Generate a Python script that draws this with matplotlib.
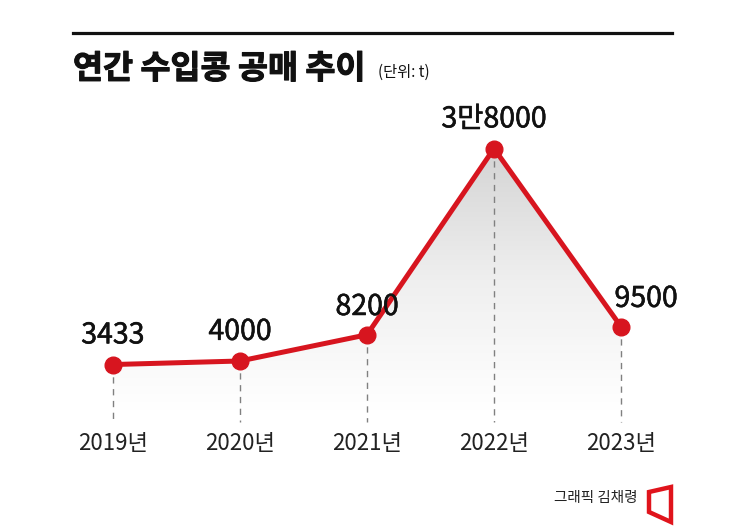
import matplotlib.pyplot as plt
import matplotlib.patheffects as pe
import numpy as np
from matplotlib.colors import LinearSegmentedColormap
from matplotlib.patches import Polygon

plt.rcParams["font.family"] = ["Noto Sans CJK KR", "DejaVu Sans"]

# ── data ────────────────────────────────────────────────────────────────────
years = ["2019년", "2020년", "2021년", "2022년", "2023년"]
values = [3433, 4000, 8200, 38000, 9500]
value_labels = ["3433", "4000", "8200", "3만8000", "9500"]

RED = "#d7151f"
W, H = 745, 531

# pixel mapping: x index 0 -> 113px, step 127px; value 0 -> 386px, 0.00625 px/unit
X0, DX = 113, 127
Y0, DY = 386, 0.00625

fig = plt.figure(figsize=(W / 100, H / 100), dpi=100)
ax = fig.add_axes([0, 0, 1, 1])
ax.set_xlim(-X0 / DX, (W - X0) / DX)
ax.set_ylim((Y0 - H) / DY, Y0 / DY)
ax.axis("off")

x = np.arange(len(values))
v = np.array(values)

# gradient fill under the line
fill_bottom = -4000
poly = ax.fill_between(x, v, fill_bottom, color="none", lw=0)
cmap = LinearSegmentedColormap.from_list("g", ["#ffffff", "#efefef", "#d4d4d4"])
grad = np.linspace(0, 1, 256).reshape(-1, 1)
img = ax.imshow(
    grad,
    cmap=cmap,
    aspect="auto",
    origin="lower",
    extent=[x[0], x[-1], fill_bottom, v.max()],
    zorder=1,
)
img.set_clip_path(poly.get_paths()[0], transform=ax.transData)

# dashed guides
for xi, vi in zip(x, v):
    ax.plot([xi, xi], [vi, -5760], ls=(0, (4.5, 4)), color="#808080", lw=1, zorder=2)

ax.plot(x, v, color=RED, lw=3.6, marker="o", ms=12, zorder=3, solid_capstyle="round")

# value labels (slightly thickened strokes)
thick = [pe.withStroke(linewidth=0.4, foreground="#111111")]
offsets = [(0, 21), (0, 21), (0, 20), (0, 21), (18, 20)]
for xi, vi, lab, off in zip(x, v, value_labels, offsets):
    ax.annotate(
        lab,
        xy=(xi, vi),
        xytext=off,
        textcoords="offset points",
        ha="center",
        va="center",
        fontsize=20.5,
        color="#111111",
        zorder=4,
        path_effects=thick,
    )

# year labels
for xi, lab in zip(x, years):
    ax.text(xi, (Y0 - 443) / DY, lab, ha="center", va="center", fontsize=16, color="#222222")

# header
fig.add_artist(plt.Line2D([73 / W, 672 / W], [1 - 33 / H, 1 - 33 / H], color="#111111", lw=2.3))
fig.text(73 / W, 1 - 69 / H, "연간 수입콩 공매 추이", fontsize=23.5, fontweight="bold",
         ha="left", va="center", color="#111111",
         path_effects=[pe.withStroke(linewidth=0.8, foreground="#111111")])
fig.text(378 / W, 1 - 72 / H, "(단위: t)", fontsize=11, ha="left", va="center", color="#111111")

# credit + logo
fig.text(637 / W, 1 - 498 / H, "그래픽 김채령", fontsize=10.5, ha="right", va="center", color="#222222")
logo = [(649, 492), (671, 487), (671, 522), (649, 512)]
fig.add_artist(Polygon([(px / W, 1 - py / H) for px, py in logo], closed=True,
                       fill=False, edgecolor="#e0141c", lw=3.2, joinstyle="miter",
                       transform=fig.transFigure))

fig.savefig("out.png", dpi=100)
